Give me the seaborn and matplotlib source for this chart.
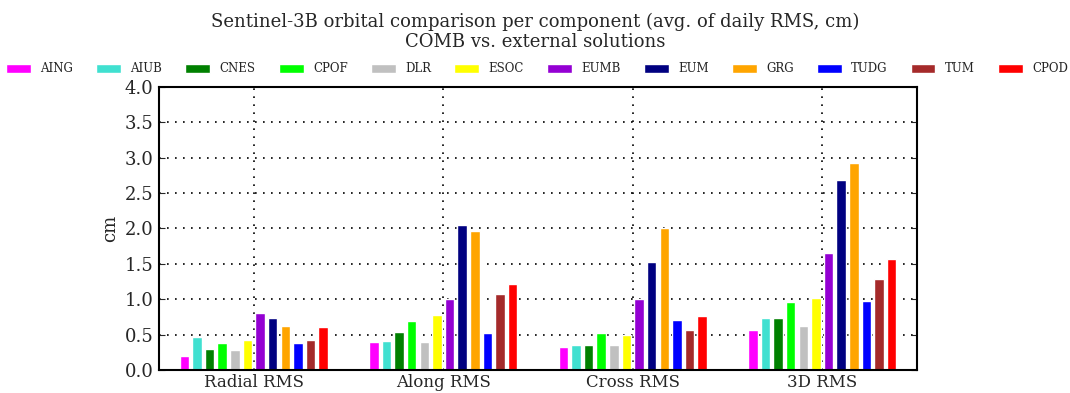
import matplotlib
matplotlib.use("Agg")
import matplotlib.pyplot as plt
import seaborn as sns
import pandas as pd

components = ["Radial RMS", "Along RMS", "Cross RMS", "3D RMS"]
solutions = ["AING", "AIUB", "CNES", "CPOF", "DLR", "ESOC",
             "EUMB", "EUM", "GRG", "TUDG", "TUM", "CPOD"]
colors = ["#FF00FF", "#40E0D0", "#008000", "#00FF00", "#C0C0C0", "#FFFF00",
          "#9400D3", "#000080", "#FFA500", "#0000FF", "#A52A2A", "#FF0000"]

radial = [0.20, 0.47, 0.30, 0.38, 0.28, 0.42, 0.80, 0.74, 0.62, 0.38, 0.42, 0.61]
along = [0.39, 0.41, 0.54, 0.69, 0.39, 0.78, 1.00, 2.05, 1.96, 0.53, 1.07, 1.22]
cross = [0.33, 0.36, 0.36, 0.52, 0.36, 0.49, 1.01, 1.52, 2.00, 0.70, 0.57, 0.77]
d3 = [0.56, 0.73, 0.73, 0.96, 0.62, 1.02, 1.65, 2.69, 2.92, 0.98, 1.29, 1.57]

rows = []
for comp, vals in zip(components, [radial, along, cross, d3]):
    for sol, v in zip(solutions, vals):
        rows.append({"component": comp, "solution": sol, "value": v})
df = pd.DataFrame(rows)

sns.set_style("white")
plt.rcParams["font.family"] = ["DejaVu Serif"]

fig = plt.figure(figsize=(10.7, 3.93), dpi=100)
ax = fig.add_axes([159 / 1070, 1 - 370 / 393, (917 - 159) / 1070, (370 - 87) / 393])

sns.barplot(data=df, x="component", y="value", hue="solution",
            order=components, hue_order=solutions, palette=colors,
            saturation=1, width=0.8, gap=0.25, ax=ax, legend=True)

ax.set_xlim(-0.5, 3.5)
ax.set_ylim(0, 4.0)
ax.set_yticks([0, 0.5, 1.0, 1.5, 2.0, 2.5, 3.0, 3.5, 4.0])
ax.set_yticklabels([f"{t:.1f}" for t in ax.get_yticks()], fontsize=13)
ax.set_xlabel("")
ax.set_ylabel("cm", fontsize=13)
ax.tick_params(axis="x", labelsize=12, direction="in", length=0, pad=3)
ax.tick_params(axis="y", direction="in", length=4, right=True, left=True, pad=4)
ax.grid(True, color="black", linestyle=(0, (1, 3.8)), linewidth=1.2)
ax.set_axisbelow(True)
for sp in ax.spines.values():
    sp.set_visible(True)
    sp.set_color("black")
    sp.set_linewidth(1.5)

handles, labels = ax.get_legend_handles_labels()
ax.get_legend().remove()
fig.legend(handles, labels, loc="center",
           bbox_to_anchor=(6 / 1070, 1 - 77 / 393, 1062 / 1070, 16 / 393),
           mode="expand", borderaxespad=0, borderpad=0,
           ncol=12, frameon=False, fontsize=8.5, handlelength=2.1,
           handleheight=0.8, handletextpad=0.8, columnspacing=0.5)

fig.text(0.5, 1 - 22 / 393, "Sentinel-3B orbital comparison per component (avg. of daily RMS, cm)",
         ha="center", va="center", fontsize=13)
fig.text(0.5, 1 - 42 / 393, "COMB vs. external solutions",
         ha="center", va="center", fontsize=13)

fig.savefig("out.png", dpi=100)
